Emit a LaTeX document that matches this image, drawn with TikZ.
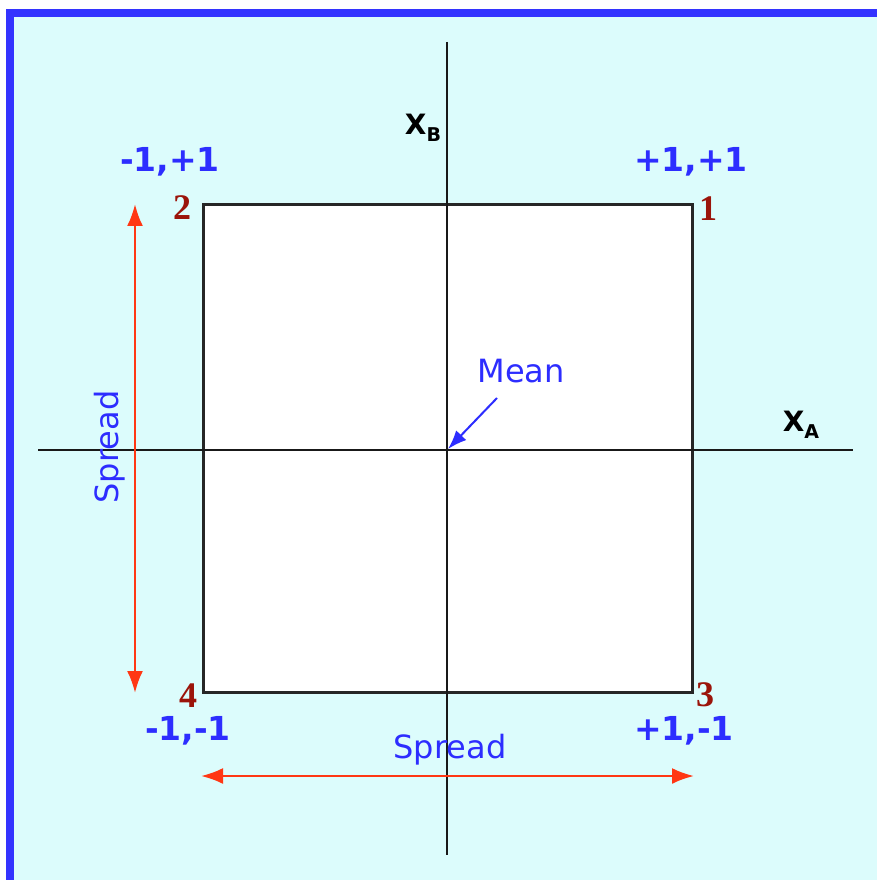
\documentclass[tikz,border=0pt]{standalone}
\usepackage{fontspec}
\setmainfont{DejaVu Sans}
\newfontfamily\numfont{Liberation Serif}
\usetikzlibrary{arrows.meta,positioning}
\definecolor{frameblue}{RGB}{51,51,255}
\definecolor{bgcyan}{RGB}{220,252,252}
\definecolor{lblblue}{RGB}{45,45,255}
\definecolor{spreadred}{RGB}{255,55,20}
\definecolor{cornerred}{RGB}{155,20,10}
\tikzset{
  axisline/.style={line width=2.5pt, black!90},
  square/.style={draw=black!85, line width=3pt, fill=white},
  spreadarrow/.style={{Latex[length=22pt,width=16pt]}-{Latex[length=22pt,width=16pt]}, line width=2.5pt, spreadred},
  meanarrow/.style={-{Latex[length=19pt,width=14pt]}, line width=2pt, lblblue},
  coord/.style={text=lblblue, font=\bfseries\fontsize{33}{36}\selectfont, inner sep=0pt, anchor=base},
  corner/.style={text=cornerred, font=\numfont\bfseries\fontsize{36}{38}\selectfont, inner sep=0pt, anchor=base},
  axlabel/.style={font=\bfseries\fontsize{28}{30}\selectfont, inner sep=0pt},
  note/.style={text=lblblue, font=\fontsize{32}{36}\selectfont, inner sep=0pt}
}

\begin{document}
\begin{tikzpicture}[x=1pt, y=-1pt]

\useasboundingbox (0,0) rectangle (877,882);

% background and frame
\fill[bgcyan] (14,17) rectangle (877,880);
\fill[frameblue] (6,9) rectangle (877,17);
\fill[frameblue] (6,9) rectangle (14,880);

% design square
\draw[square] (203,205) rectangle (692,692);

% axes
\coordinate (xa0) at (38,450);
\coordinate (xa1) at (853,450);
\coordinate (xb0) at (447,42);
\coordinate (xb1) at (447,855);
\draw[axisline] (xa0) -- (xa1);
\draw[axisline] (xb0) -- (xb1);
\node[axlabel] (xalabel) at (801,425) {X\raisebox{-0.45ex}{\fontsize{19}{20}\selectfont A}};
\node[axlabel] (xblabel) at (423,128) {X\raisebox{-0.45ex}{\fontsize{19}{20}\selectfont B}};

% mean
\coordinate (origin) at (448,449);
\node[note, anchor=base] (mean) at (521,382) {Mean};
\coordinate (meantail) at (497,398);
\draw[meanarrow] (meantail) -- (origin);

% corner runs
\node[corner] (c2) at (182,220) {2};
\node[corner] (c1) at (708,221) {1};
\node[corner] (c4) at (188,707) {4};
\node[corner] (c3) at (705,706) {3};

% coded levels
\node[coord] (lvl2) at (170,172) {-1,+1};
\node[coord] (lvl1) at (691,172) {+1,+1};
\node[coord] (lvl4) at (188,740) {-1,-1};
\node[coord] (lvl3) at (684,740) {+1,-1};

% spread arrows
\coordinate (sv0) at (135,204);
\coordinate (sv1) at (135,693);
\coordinate (sh0) at (201,776);
\coordinate (sh1) at (694,776);
\draw[spreadarrow] (sv0) -- (sv1);
\draw[spreadarrow] (sh0) -- (sh1);
\node[note, rotate=90] (spreadv) at (110,447) {Spread};
\node[note, anchor=base] (spreadh) at (450,758) {Spread};

\end{tikzpicture}
\end{document}
